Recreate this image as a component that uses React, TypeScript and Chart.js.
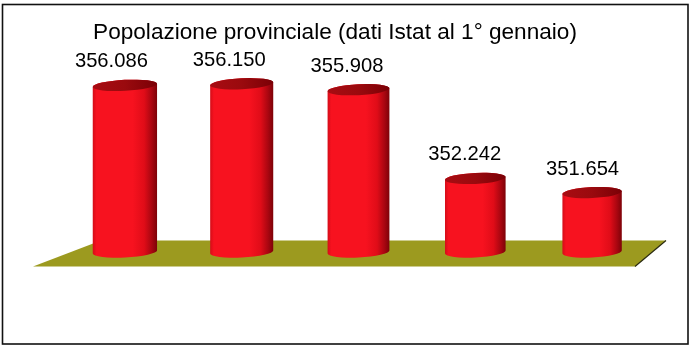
import React, { useEffect, useRef } from "react";
import { Chart, registerables } from "chart.js";

Chart.register(...registerables);

// ---- data ----
const TITLE = "Popolazione provinciale (dati Istat al 1° gennaio)";
const categories = ["Anno 1", "Anno 2", "Anno 3", "Anno 4", "Anno 5"];
const population = [356086, 356150, 355908, 352242, 351654];
const Y_MIN = 349200;
const Y_MAX = 357200;

const fmt = (n: number) => String(n).replace(/\B(?=(\d{3})+(?!\d))/g, ".");

const FONT = '"Liberation Sans", Arial, sans-serif';

const floorPlugin = {
  id: "floor3d",
  beforeDatasetsDraw(chart: any) {
    const { ctx, chartArea } = chart;
    const { left, right } = chartArea;
    const base = chart.scales.y.getPixelForValue(Y_MIN);
    ctx.save();
    ctx.beginPath();
    ctx.moveTo(left - 33.5, base + 14.5);
    ctx.lineTo(left + 34.5, base - 11.5);
    ctx.lineTo(right + 15.5, base - 11.5);
    ctx.lineTo(right - 15.5, base + 14.5);
    ctx.closePath();
    ctx.fillStyle = "#9c9a1f";
    ctx.fill();
    ctx.beginPath();
    ctx.moveTo(right + 15.5, base - 11.5);
    ctx.lineTo(right - 15.5, base + 14.5);
    ctx.strokeStyle = "#2a2a10";
    ctx.lineWidth = 1.2;
    ctx.stroke();
    ctx.restore();
  },
};

const cylinderPlugin = {
  id: "cylinders",
  afterDatasetsDraw(chart: any) {
    const { ctx, chartArea } = chart;
    const { left, right } = chartArea;
    const base = chart.scales.y.getPixelForValue(Y_MIN);
    const meta = chart.getDatasetMeta(0);
    meta.data.forEach((bar: any, i: number) => {
      const { x, y, width } = bar.getProps(["x", "y", "width"], true);
      const frac = (x - left) / (right - left);
      const w = width * (1.05 - 0.1 * frac);
      const rx = w / 2;
      const ry = 5.5;
      const rot = -0.05;
      const l = x - rx;
      const r = x + rx;
      ctx.save();
      const g = ctx.createLinearGradient(l, 0, r, 0);
      g.addColorStop(0, "#d40c18");
      g.addColorStop(0.06, "#f7121f");
      g.addColorStop(0.62, "#f7121f");
      g.addColorStop(0.8, "#e00c18");
      g.addColorStop(0.92, "#a80610");
      g.addColorStop(1, "#7d0208");
      ctx.beginPath();
      ctx.ellipse(x, y, rx, ry, rot, Math.PI, 0, false);
      ctx.ellipse(x, base, rx, ry, rot, 0, Math.PI, false);
      ctx.closePath();
      ctx.fillStyle = g;
      ctx.fill();
      // top face
      const gt = ctx.createLinearGradient(l, 0, r, 0);
      gt.addColorStop(0, "#a80c12");
      gt.addColorStop(0.5, "#9a0a0e");
      gt.addColorStop(1, "#7a0006");
      ctx.beginPath();
      ctx.ellipse(x, y, rx, ry, rot, 0, Math.PI * 2);
      ctx.fillStyle = gt;
      ctx.fill();
      // label
      ctx.font = `20.2px ${FONT}`;
      ctx.fillStyle = "#000";
      ctx.textAlign = "center";
      ctx.textBaseline = "alphabetic";
      ctx.fillText(fmt(population[i]), x - 14 + 5 * frac, y - 18);
      ctx.restore();
    });
  },
};

const framePlugin = {
  id: "frameTitle",
  afterDraw(chart: any) {
    const { ctx, chartArea } = chart;
    ctx.save();
    ctx.font = `22.6px ${FONT}`;
    ctx.fillStyle = "#000";
    ctx.textAlign = "center";
    ctx.textBaseline = "alphabetic";
    ctx.fillText(TITLE, (chartArea.left + chartArea.right) / 2 - 23.5, 39);
    ctx.strokeStyle = "#111";
    ctx.lineWidth = 1.6;
    ctx.strokeRect(2.5, 4.5, 685.5, 339.5);
    ctx.restore();
  },
};

export default function App() {
  const ref = useRef<HTMLCanvasElement | null>(null);
  useEffect(() => {
    if (!ref.current) return;
    const chart = new Chart(ref.current, {
      type: "bar",
      data: {
        labels: categories,
        datasets: [
          {
            data: population,
            base: Y_MIN,
            backgroundColor: "rgba(0,0,0,0)",
            borderWidth: 0,
            barPercentage: 0.53,
            categoryPercentage: 1,
          },
        ],
      },
      options: {
        animation: false,
        responsive: false,
        devicePixelRatio: 1,
        layout: { padding: { left: 66.5, right: 42.5, top: 58.4, bottom: 95 } },
        plugins: {
          legend: { display: false },
          title: { display: false },
          tooltip: { enabled: false },
        },
        scales: {
          x: { display: false },
          y: { display: false, min: Y_MIN, max: Y_MAX },
        },
      },
      plugins: [floorPlugin, cylinderPlugin, framePlugin],
    });
    return () => chart.destroy();
  }, []);
  return (
    <div style={{ position: "fixed", left: 0, top: 0, width: 693, height: 347, background: "#fff" }}>
      <canvas ref={ref} width={693} height={347} style={{ display: "block" }} />
    </div>
  );
}
